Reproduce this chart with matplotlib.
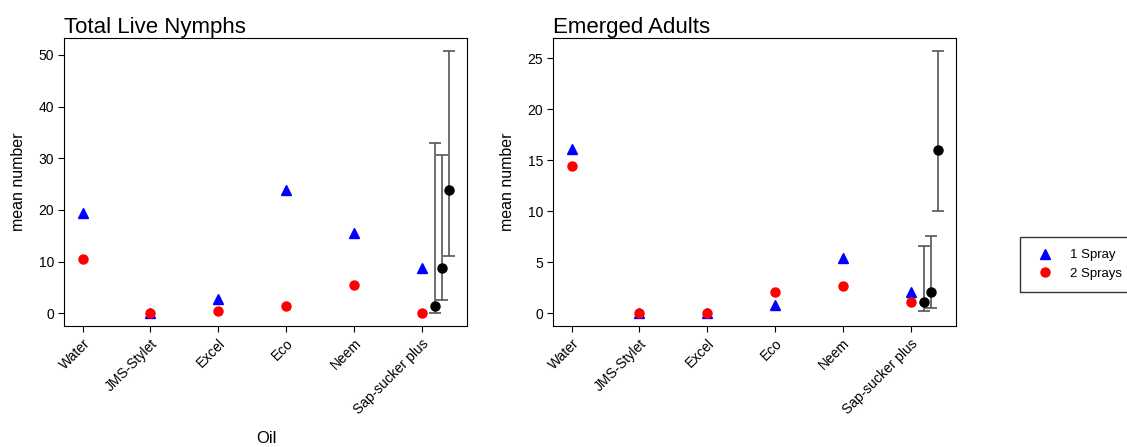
import matplotlib.pyplot as plt
import numpy as np

plt.rcParams['font.family'] = ['Liberation Sans', 'DejaVu Sans']

oils = ['Water', 'JMS-Stylet', 'Excel', 'Eco', 'Neem', 'Sap-sucker plus']

# Total live nymphs
nymph_1spray = [19.4, 0.0, 2.8, 23.8, 15.5, 8.8]
nymph_2spray = [10.5, 0.1, 0.5, 1.5, 5.5, 0.1]
nymph_black = [1.5, 8.8, 23.8]
nymph_lo = [0.0, 2.5, 11.0]
nymph_hi = [33.0, 30.6, 50.7]

# Emerged adults
adult_1spray = [16.1, 0.0, 0.0, 0.8, 5.45, 2.1]
adult_2spray = [14.4, 0.05, 0.05, 2.05, 2.7, 1.08]
adult_black = [1.08, 2.05, 16.05]
adult_lo = [0.2, 0.55, 10.0]
adult_hi = [6.65, 7.6, 25.7]

black_x = [5.2, 5.3, 5.4]

fig = plt.figure(figsize=(11.27, 4.47), dpi=100)
ax1 = fig.add_axes([0.0571, 0.2707, 0.3575, 0.6436])
ax2 = fig.add_axes([0.491, 0.2707, 0.3573, 0.6436])

x = np.arange(len(oils))


def panel(ax, one, two, blk, lo, hi, title, ylim, yticks):
    ax.plot(x, one, '^', color='blue', markersize=7, linestyle='none', label='1 Spray')
    ax.plot(x, two, 'o', color='red', markersize=6.5, linestyle='none', label='2 Sprays')
    blk = np.array(blk)
    yerr = [blk - np.array(lo), np.array(hi) - blk]
    ax.errorbar(black_x, blk, yerr=yerr, fmt='o', color='black', markersize=6.5,
                ecolor='#555555', elinewidth=1.2, capsize=4, capthick=1.2)
    ax.set_xlim(-0.27, 5.67)
    ax.set_ylim(*ylim)
    ax.set_yticks(yticks)
    ax.set_xticks(x)
    ax.set_xticklabels(oils, rotation=45, ha='right', rotation_mode='anchor', fontsize=10)
    ax.tick_params(axis='both', direction='out', length=4, labelsize=10)
    ax.set_ylabel('mean number', fontsize=11.5, labelpad=9)
    ax.set_title(title, loc='left', fontsize=16, pad=3)


panel(ax1, nymph_1spray, nymph_2spray, nymph_black, nymph_lo, nymph_hi,
      'Total Live Nymphs', (-2.46, 53.2), [0, 10, 20, 30, 40, 50])
panel(ax2, adult_1spray, adult_2spray, adult_black, adult_lo, adult_hi,
      'Emerged Adults', (-1.24, 26.96), [0, 5, 10, 15, 20, 25])

h, l = ax1.get_legend_handles_labels()
fig.legend(h, l, loc='upper left', bbox_to_anchor=(0.905, 0.469), borderaxespad=0,
           fontsize=9.5, fancybox=False, edgecolor='#333333', framealpha=1,
           borderpad=0.9, handletextpad=0.9, labelspacing=0.45)

fig.text(0.236, 0.002, 'Oil', fontsize=12, ha='center', va='bottom')

plt.savefig('out.png', dpi=100)
